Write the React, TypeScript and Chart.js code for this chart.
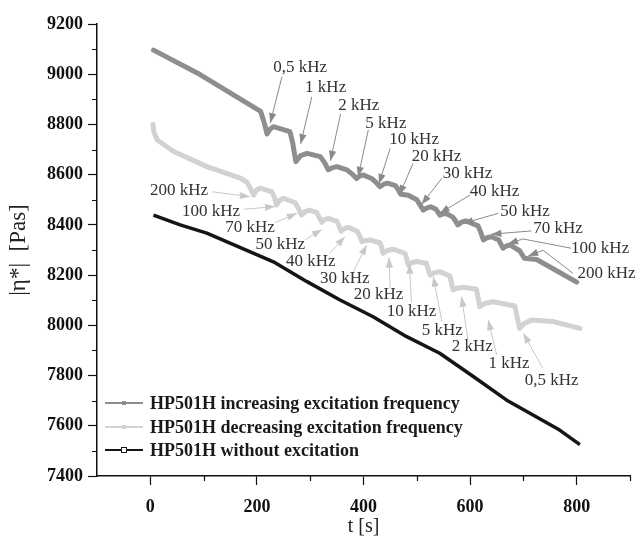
import { useEffect, useRef } from 'react';
import { Chart, registerables } from 'chart.js';

Chart.register(...registerables);

const FONT = '"Liberation Serif", "Times New Roman", serif';

// ---- data (t [s], |eta*| [Pas]) ----
const increasingTime = [6, 88, 207, 213, 219, 225, 231, 262, 267, 273, 282, 294, 319, 327, 334, 342, 350, 369, 380, 387, 393, 400, 415, 424, 431, 438, 445, 460, 465, 470, 477, 484, 500, 506, 512, 519, 526, 536, 540, 543, 549, 555, 567, 572, 577, 584, 592, 615, 620, 625, 632, 640, 654, 658, 662, 668, 675, 693, 698, 702, 725, 800];
const increasingVisc = [9096, 9005, 8852, 8812, 8762, 8782, 8791, 8771, 8728, 8652, 8676, 8685, 8672, 8648, 8619, 8628, 8632, 8619, 8600, 8585, 8595, 8599, 8585, 8568, 8552, 8562, 8566, 8556, 8540, 8522, 8520, 8518, 8500, 8480, 8459, 8468, 8472, 8462, 8450, 8439, 8444, 8445, 8432, 8418, 8400, 8411, 8416, 8396, 8370, 8340, 8349, 8353, 8340, 8322, 8307, 8316, 8320, 8297, 8280, 8267, 8262, 8172];

const decreasingTime = [5, 7, 13, 44, 106, 169, 182, 188, 194, 199, 206, 228, 233, 237, 242, 250, 272, 278, 284, 290, 298, 312, 317, 322, 327, 334, 350, 354, 358, 364, 372, 388, 393, 397, 403, 412, 431, 434, 437, 445, 456, 478, 481, 484, 491, 500, 518, 521, 525, 532, 543, 562, 565, 568, 576, 587, 612, 615, 618, 628, 643, 684, 688, 693, 701, 715, 756, 806];
const decreasingVisc = [8800, 8768, 8738, 8692, 8632, 8586, 8568, 8545, 8519, 8538, 8546, 8532, 8508, 8479, 8497, 8506, 8488, 8465, 8439, 8452, 8459, 8450, 8430, 8410, 8421, 8426, 8415, 8395, 8375, 8385, 8390, 8375, 8355, 8333, 8337, 8340, 8329, 8310, 8287, 8298, 8303, 8287, 8265, 8240, 8250, 8254, 8247, 8225, 8200, 8209, 8214, 8197, 8170, 8141, 8148, 8152, 8144, 8110, 8074, 8088, 8094, 8077, 8035, 7988, 8006, 8021, 8015, 7988];

const noExcitationTime = [6, 56, 106, 231, 294, 356, 418, 481, 543, 606, 668, 768, 806];
const noExcitationVisc = [8439, 8400, 8367, 8253, 8174, 8101, 8034, 7955, 7889, 7796, 7703, 7583, 7525];

const seriesLabels = [
  'HP501H increasing excitation frequency',
  'HP501H decreasing excitation frequency',
  'HP501H without excitation',
];

const xTickValues = [0, 200, 400, 600, 800];
const xMinorValues = [100, 300, 500, 700, 900];
const yTickValues = [7400, 7600, 7800, 8000, 8200, 8400, 8600, 8800, 9000, 9200];
const yMinorValues = [7500, 7700, 7900, 8100, 8300, 8500, 8700, 8900, 9100];

// ---- frequency annotations (data coordinates) ----
const incLabels = ['0,5 kHz', '1 kHz', '2 kHz', '5 kHz', '10 kHz', '20 kHz', '30 kHz', '40 kHz', '50 kHz', '70 kHz', '100 kHz', '200 kHz'];
const incTextT = [281, 329, 391, 442, 495, 537, 595, 646, 703, 765, 844, 856];
const incTextV = [9028, 8948, 8875, 8805, 8738, 8674, 8605, 8532, 8455, 8384, 8307, 8207];
const incFromT = [247, 303, 357, 409, 450, 493, 547, 600, 653, 715, 790, 793];
const incFromV = [8990, 8910, 8842, 8778, 8705, 8645, 8586, 8519, 8446, 8376, 8307, 8207];
const incKinkT = [null, null, null, null, null, null, null, null, null, null, 699, 737];
const incKinkV = [null, null, null, null, null, null, null, null, null, null, 8344, 8299];
const incTipT = [225, 282, 338, 390, 429, 467, 509, 543, 587, 640, 671, 709];
const incTipV = [8805, 8722, 8655, 8592, 8563, 8519, 8481, 8446, 8406, 8363, 8324, 8276];

const decLabels = ['200 kHz', '100 kHz', '70 kHz', '50 kHz', '40 kHz', '30 kHz', '20 kHz', '10 kHz', '5 kHz', '2 kHz', '1 kHz', '0,5 kHz'];
const decTextT = [54, 114, 187, 244, 301, 365, 428, 490, 548, 604, 673, 753];
const decTextV = [8535, 8455, 8389, 8320, 8254, 8185, 8121, 8054, 7981, 7915, 7849, 7782];
const decFromT = [116, 175, 234, 290, 337, 381, 450, 490, 547, 596, 650, 736];
const decFromV = [8532, 8462, 8409, 8340, 8287, 8214, 8150, 8090, 8015, 7942, 7882, 7830];
const decTipT = [187, 234, 275, 322, 365, 406, 448, 486, 531, 584, 634, 700];
const decTipV = [8512, 8473, 8446, 8382, 8353, 8320, 8270, 8245, 8194, 8114, 8021, 7968];

const COLORS = ['#8e8e8e', '#d2d2d2', '#151515'];
const ARROW_COLORS = ['#8a8a8a', '#c8c8c8'];

function drawArrow(ctx: CanvasRenderingContext2D, pts: number[][], color: string) {
  ctx.save();
  ctx.strokeStyle = color;
  ctx.fillStyle = color;
  ctx.lineWidth = 1;
  ctx.beginPath();
  ctx.moveTo(pts[0][0], pts[0][1]);
  for (let i = 1; i < pts.length; i++) ctx.lineTo(pts[i][0], pts[i][1]);
  ctx.stroke();
  const [x1, y1] = pts[pts.length - 2];
  const [x2, y2] = pts[pts.length - 1];
  const a = Math.atan2(y2 - y1, x2 - x1);
  const L = 10, W = 3.6;
  ctx.beginPath();
  ctx.moveTo(x2, y2);
  ctx.lineTo(x2 - L * Math.cos(a) + W * Math.sin(a), y2 - L * Math.sin(a) - W * Math.cos(a));
  ctx.lineTo(x2 - L * Math.cos(a) - W * Math.sin(a), y2 - L * Math.sin(a) + W * Math.cos(a));
  ctx.closePath();
  ctx.fill();
  ctx.restore();
}

const overlayPlugin = {
  id: 'overlay',
  afterDraw(chart: any) {
    const ctx: CanvasRenderingContext2D = chart.ctx;
    const xs = chart.scales.x;
    const ys = chart.scales.y;
    const area = chart.chartArea;
    const px = (t: number) => xs.getPixelForValue(t);
    const py = (v: number) => ys.getPixelForValue(v);

    // minor ticks
    ctx.save();
    ctx.strokeStyle = '#111';
    ctx.lineWidth = 1.2;
    ctx.beginPath();
    xMinorValues.forEach((t) => {
      const x = Math.round(px(t)) + 0.5;
      ctx.moveTo(x, area.bottom);
      ctx.lineTo(x, area.bottom + 5);
    });
    yMinorValues.forEach((v) => {
      const y = Math.round(py(v)) + 0.5;
      ctx.moveTo(area.left, y);
      ctx.lineTo(area.left - 5, y);
    });
    ctx.stroke();
    ctx.restore();

    // annotations
    const drawSet = (labels: string[], tT: number[], tV: number[], fT: number[], fV: number[], kT: any[], kV: any[], pT: number[], pV: number[], color: string) => {
      labels.forEach((lab, i) => {
        const pts = [[px(fT[i]), py(fV[i])]];
        if (kT && kT[i] != null) pts.push([px(kT[i]), py(kV[i])]);
        pts.push([px(pT[i]), py(pV[i])]);
        drawArrow(ctx, pts, color);
        ctx.save();
        ctx.font = `17px ${FONT}`;
        ctx.fillStyle = '#333';
        ctx.textAlign = 'center';
        ctx.textBaseline = 'middle';
        ctx.fillText(lab, px(tT[i]), py(tV[i]));
        ctx.restore();
      });
    };
    drawSet(incLabels, incTextT, incTextV, incFromT, incFromV, incKinkT, incKinkV, incTipT, incTipV, ARROW_COLORS[0]);
    drawSet(decLabels, decTextT, decTextV, decFromT, decFromV, [], [], decTipT, decTipV, ARROW_COLORS[1]);

    // legend
    const lx = area.left + 8;
    const rows = [area.bottom - 73, area.bottom - 49, area.bottom - 26];
    seriesLabels.forEach((lab, i) => {
      const y = rows[i];
      ctx.save();
      ctx.strokeStyle = COLORS[i];
      ctx.lineWidth = 2;
      ctx.beginPath();
      ctx.moveTo(lx, y);
      ctx.lineTo(lx + 38, y);
      ctx.stroke();
      if (i === 2) {
        ctx.fillStyle = '#fff';
        ctx.fillRect(lx + 16.5, y - 2.5, 5, 5);
        ctx.lineWidth = 1;
        ctx.strokeRect(lx + 16.5, y - 2.5, 5, 5);
      } else {
        ctx.fillStyle = COLORS[i];
        ctx.fillRect(lx + 17, y - 2, 4, 4);
      }
      ctx.font = `bold 18px ${FONT}`;
      ctx.fillStyle = '#1a1a1a';
      ctx.textAlign = 'left';
      ctx.textBaseline = 'middle';
      ctx.fillText(lab, lx + 45, y + 1);
      ctx.restore();
    });
  },
};

export default function App() {
  const ref = useRef<HTMLCanvasElement>(null);
  useEffect(() => {
    const toPts = (ts: number[], vs: number[]) => ts.map((t, i) => ({ x: t, y: vs[i] }));
    const chart = new Chart(ref.current as HTMLCanvasElement, {
      type: 'line',
      data: {
        datasets: [
          { label: seriesLabels[0], data: toPts(increasingTime, increasingVisc), borderColor: COLORS[0], borderWidth: 5, pointRadius: 0, tension: 0, borderJoinStyle: 'round', borderCapStyle: 'round' },
          { label: seriesLabels[1], data: toPts(decreasingTime, decreasingVisc), borderColor: COLORS[1], borderWidth: 5, pointRadius: 0, tension: 0, borderJoinStyle: 'round', borderCapStyle: 'round' },
          { label: seriesLabels[2], data: toPts(noExcitationTime, noExcitationVisc), borderColor: COLORS[2], borderWidth: 3.5, pointRadius: 0, tension: 0, borderJoinStyle: 'round' },
        ],
      } as any,
      options: {
        animation: false,
        responsive: true,
        maintainAspectRatio: false,
        layout: { padding: { top: 24, right: 14, left: 0, bottom: 0 } },
        plugins: { legend: { display: false }, tooltip: { enabled: false } },
        scales: {
          x: {
            type: 'linear',
            min: -100,
            max: 900,
            afterFit: (s: any) => { s.height = 65; },
            afterBuildTicks: (s: any) => { s.ticks = xTickValues.map((v) => ({ value: v })); },
            ticks: { font: { family: FONT, size: 18, weight: 'bold' }, color: '#111', padding: 12, maxRotation: 0, autoSkip: false, callback: (v: any) => String(v) },
            grid: { drawOnChartArea: false, tickLength: 9, color: '#111', tickWidth: 1.2 },
            border: { color: '#111', width: 1.5 },
            title: { display: true, text: 't [s]', font: { family: FONT, size: 20 }, color: '#222', padding: { top: 0, bottom: 2 } },
          },
          y: {
            type: 'linear',
            min: 7400,
            max: 9200,
            afterFit: (s: any) => { s.width = 97; },
            afterBuildTicks: (s: any) => { s.ticks = yTickValues.map((v) => ({ value: v })); },
            ticks: { font: { family: FONT, size: 18, weight: 'bold' }, color: '#111', padding: 5, autoSkip: false, callback: (v: any) => String(v) },
            grid: { drawOnChartArea: false, tickLength: 9, color: '#111', tickWidth: 1.2 },
            border: { color: '#111', width: 1.5 },
            title: { display: true, text: '|η*|  [Pas]', font: { family: FONT, size: 23 }, color: '#222', padding: { top: 5, bottom: 0 } },
          },
        },
      } as any,
      plugins: [overlayPlugin],
    });
    return () => chart.destroy();
  }, []);
  return (
    <div style={{ position: 'absolute', left: 0, top: 0, width: 644, height: 541 }}>
      <canvas ref={ref} />
    </div>
  );
}
